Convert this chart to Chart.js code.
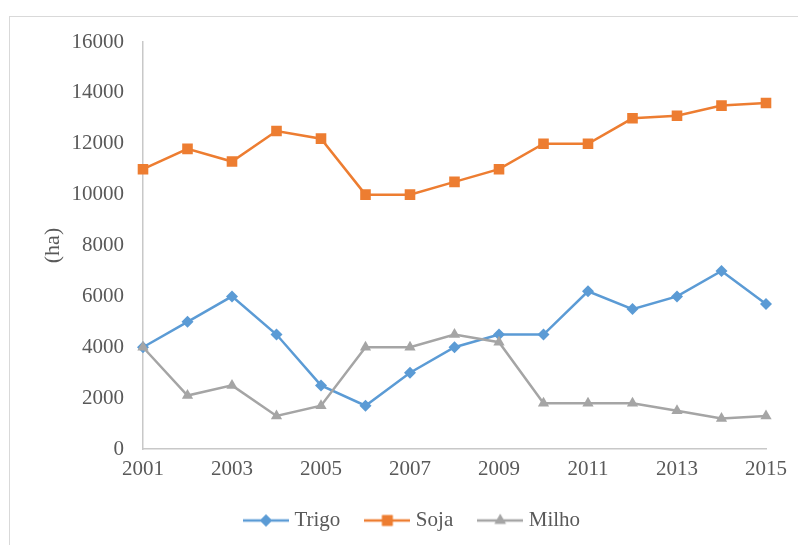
<!DOCTYPE html>
<html>
<head>
<meta charset="utf-8">
<script src="https://cdn.jsdelivr.net/npm/chart.js@4"></script>
<style>
  html, body { margin: 0; padding: 0; background: #fff; }
  #frame { position: absolute; left: 9px; top: 16px; width: 900px; height: 600px;
           border-top: 1px solid #d9d9d9; border-left: 1px solid #d9d9d9; }
  #wrap { position: absolute; left: 0; top: 0; width: 798px; height: 545px; }
</style>
</head>
<body>
<div id="frame"></div>
<div id="wrap"><canvas id="chart"></canvas></div>
<script>
const years = ['2001', '2002', '2003', '2004', '2005', '2006', '2007', '2008',
               '2009', '2010', '2011', '2012', '2013', '2014', '2015'];
const trigo = [4000, 5000, 6000, 4500, 2500, 1700, 3000, 4000, 4500, 4500, 6200, 5500, 6000, 7000, 5700];
const soja  = [11000, 11800, 11300, 12500, 12200, 10000, 10000, 10500, 11000, 12000, 12000, 13000, 13100, 13500, 13600];
const milho = [4000, 2100, 2500, 1300, 1700, 4000, 4000, 4500, 4200, 1800, 1800, 1800, 1500, 1200, 1300];
const yTicks = [0, 2000, 4000, 6000, 8000, 10000, 12000, 14000, 16000];

const blue = '#5b9bd5', orange = '#ed7d31', grey = '#a5a5a5';
const textColor = '#595959';
const serif = '"Liberation Serif", "DejaVu Serif", serif';

// legend swatch: short line with the marker in the middle, like Excel
function swatch(color, style, r) {
  const c = document.createElement('canvas');
  c.width = 46; c.height = 16;
  const ctx = c.getContext('2d');
  ctx.strokeStyle = color; ctx.lineWidth = 2.5;
  ctx.beginPath(); ctx.moveTo(0, 8); ctx.lineTo(46, 8); ctx.stroke();
  ctx.fillStyle = color;
  Chart.helpers.drawPoint(ctx, { pointStyle: style, radius: r, rotation: 0, borderWidth: 0 }, 23, 8);
  ctx.fill();
  return c;
}

const series = [
  { label: 'Trigo', data: trigo, color: blue, style: 'rectRot', r: 6, order: 2 },
  { label: 'Soja', data: soja, color: orange, style: 'rect', r: 7.5, order: 1 },
  { label: 'Milho', data: milho, color: grey, style: 'triangle', r: 6.5, order: 0 },
];

new Chart(document.getElementById('chart'), {
  type: 'line',
  data: {
    labels: years,
    datasets: series.map(s => ({
      label: s.label,
      data: s.data,
      borderColor: s.color,
      backgroundColor: s.color,
      pointBackgroundColor: s.color,
      pointBorderColor: s.color,
      pointStyle: s.style,
      pointRadius: s.r,
      pointBorderWidth: 0,
      borderWidth: 2.5,
      tension: 0,
      order: s.order,
    })),
  },
  options: {
    responsive: true,
    maintainAspectRatio: false,
    animation: false,
    devicePixelRatio: 1,
    layout: { padding: { top: 42, right: 32, left: 62, bottom: 4 } },
    plugins: {
      tooltip: { enabled: false },
      legend: {
        position: 'bottom',
        labels: {
          color: textColor,
          font: { family: serif, size: 21 },
          usePointStyle: true,
          pointStyleWidth: 36,
          padding: 29,
          generateLabels: () => series.map((s, i) => ({
            text: s.label,
            pointStyle: swatch(s.color, s.style, s.r),
            fillStyle: s.color,
            strokeStyle: s.color,
            lineWidth: 0,
            fontColor: textColor,
            datasetIndex: i,
            hidden: false,
          })),
        },
      },
    },
    scales: {
      x: {
        grid: { display: false, drawTicks: false },
        border: { display: true, color: '#c8c8c8', width: 1.5 },
        ticks: {
          color: textColor,
          font: { family: serif, size: 21 },
          padding: 8,
          autoSkip: false,
          maxRotation: 0,
          callback: (v, i) => (i % 2 === 0 ? years[i] : ''),
        },
        afterFit: s => { s.height = 32; },
      },
      y: {
        min: 0,
        max: 16000,
        afterBuildTicks: s => { s.ticks = yTicks.map(v => ({ value: v })); },
        grid: { display: false, drawTicks: false },
        border: { display: true, color: '#c8c8c8', width: 1.5 },
        ticks: {
          color: textColor,
          font: { family: serif, size: 21 },
          padding: 19,
          callback: v => String(v),
        },
        title: {
          display: true,
          text: '(ha)',
          color: textColor,
          font: { family: serif, size: 22 },
          padding: { top: -22, bottom: 0 },
        },
        afterFit: s => { s.width = 81; },
      },
    },
  },
});
</script>
</body>
</html>
